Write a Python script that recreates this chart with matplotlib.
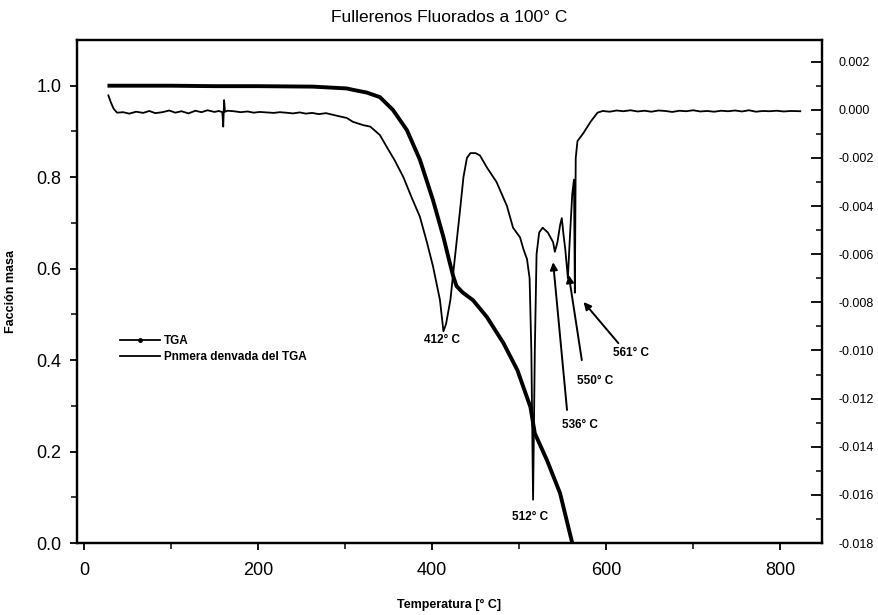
import matplotlib.pyplot as plt
from matplotlib.lines import Line2D

plt.rcParams['font.family'] = ['Liberation Sans', 'DejaVu Sans']

# TGA (fraccion masa)
tga_temp = [27, 60, 100, 150, 200, 263, 302, 309, 325, 340, 355, 371, 386, 401,
            413, 420, 424, 428, 435, 447, 463, 482, 498, 513, 518, 532, 547, 561]
tga_mass = [1.0, 1.0, 1.0, 0.999, 0.999, 0.998, 0.994, 0.991, 0.985, 0.975, 0.947,
            0.903, 0.838, 0.750, 0.669, 0.615, 0.585, 0.562, 0.548, 0.531, 0.494,
            0.437, 0.378, 0.297, 0.240, 0.181, 0.109, 0.0]

# Primera derivada del TGA
der_temp = [28, 31, 34, 38, 45, 52, 60, 68, 75, 82, 90, 98, 105, 112, 120, 128,
            135, 142, 150, 155, 159, 160, 161, 162, 165, 172, 180, 188, 195, 202,
            210, 218, 225, 232, 240, 248, 255, 262, 270, 278, 285, 292, 302, 309,
            321, 329, 340, 348, 357, 367, 376, 386, 394, 401, 409, 413, 416, 421,
            426, 432, 436, 440, 444, 450, 455, 463, 474, 486, 493, 501, 505, 509,
            512, 514, 516, 518, 520, 523, 527, 533, 539, 541, 544, 547, 549, 551,
            553, 556, 558, 561, 563, 564, 565, 567, 574, 582, 590, 596, 604, 612,
            620, 628, 636, 644, 652, 660, 668, 676, 684, 692, 700, 708, 716, 724,
            732, 740, 748, 756, 764, 772, 780, 788, 796, 804, 812, 823]
der_val = [0.0006, 0.0003, 0.00005, -0.00012, -0.0001, -0.00016, -0.00008,
           -0.00013, -0.00005, -0.00014, -0.0001, -0.00003, -0.00012, -0.00006,
           -0.00015, -0.00004, -0.0001, -0.00002, -0.00009, -0.00005, -0.0001,
           -0.0007, 0.0004, -0.00008, -0.00004, -0.00006, -0.0001, -0.00007,
           -0.00012, -0.00009, -0.00011, -0.00013, -0.0001, -0.00012, -0.00015,
           -0.00011, -0.00016, -0.00013, -0.00018, -0.00014, -0.0002, -0.00026,
           -0.00034, -0.0005, -0.00064, -0.0007, -0.00105, -0.00155, -0.0021,
           -0.0028, -0.0036, -0.00445, -0.0055, -0.0065, -0.0079, -0.0092, -0.0089,
           -0.0079, -0.0062, -0.0042, -0.0028, -0.0020, -0.0018, -0.0018, -0.0019,
           -0.0024, -0.0030, -0.0040, -0.0049, -0.0053, -0.0058, -0.0062, -0.0070,
           -0.0100, -0.0162, -0.0100, -0.0060, -0.0051, -0.0049, -0.0051, -0.0055,
           -0.0059, -0.0055, -0.0048, -0.0045, -0.0052, -0.0058, -0.0070, -0.0055,
           -0.0035, -0.0029, -0.0076, -0.0020, -0.0013, -0.00096, -0.0005,
           -0.00012, -0.00005, -0.00008, -0.00003, -0.00006, -0.00002, -0.00007,
           -0.00004, -0.00008, -0.00003, -0.00005, -0.00009, -0.00004, -0.00006,
           -0.00002, -0.00007, -0.00005, -0.00008, -0.00004, -0.00006, -0.00003,
           -0.00007, -0.00002, -0.00008, -0.00005, -0.00006, -0.00004, -0.00007,
           -0.00005, -0.00006]

# etiquetas de picos (texto, x, y en fraccion masa)
peak_text = ['412° C', '512° C', '536° C', '550° C', '561° C']
peak_x = [411, 512, 570, 587, 628]
peak_y = [0.443, 0.058, 0.258, 0.354, 0.415]

# flechas: cola -> punta
arrow_tail = [(555, 0.291), (572, 0.40), (614, 0.437)]
arrow_head = [(539, 0.614), (557, 0.586), (574, 0.527)]

fig = plt.figure(figsize=(8.79, 6.15), dpi=100)
ax = fig.add_axes([0.0876, 0.117, 0.8476, 0.818])
ax2 = ax.twinx()

ax.plot(tga_temp, tga_mass, color='black', lw=2.8, solid_capstyle='butt')
ax2.plot(der_temp, der_val, color='black', lw=1.3)

ax.set_xlim(-8, 848)
ax.set_ylim(0, 1.1)
ax2.set_ylim(-0.018, 0.0029)

ax.set_xticks([0, 200, 400, 600, 800])
ax.set_xticks([100, 300, 500, 700], minor=True)
ax.set_yticks([0.0, 0.2, 0.4, 0.6, 0.8, 1.0])
ax.set_yticks([0.1, 0.3, 0.5, 0.7, 0.9], minor=True)
ax.set_yticklabels(['0.0', '0.2', '0.4', '0.6', '0.8', '1.0'])
ax2.set_yticks([0.002 - 0.002 * i for i in range(11)])
ax2.set_yticks([0.001 - 0.002 * i for i in range(10)], minor=True)
ax2.set_yticklabels(['%.3f' % (0.002 - 0.002 * i) for i in range(11)])

ax.tick_params(axis='both', which='major', direction='out', length=5, width=1.3,
               labelsize=13, pad=6)
ax.tick_params(axis='both', which='minor', direction='out', length=4, width=1.1)
ax.tick_params(axis='x', pad=9)
ax2.tick_params(axis='y', which='major', direction='in', length=8, width=1.3,
                labelsize=9, pad=12)
ax2.tick_params(axis='y', which='minor', direction='in', length=4, width=1.1)

for sp in ['left', 'right', 'top', 'bottom']:
    ax.spines[sp].set_linewidth(1.6)
    ax2.spines[sp].set_linewidth(1.6)

ax.set_xlabel('Temperatura [° C]', fontsize=9, fontweight='bold', labelpad=14)
ax.set_ylabel('Facción masa', fontsize=9, fontweight='bold', labelpad=14)
ax.set_title('Fullerenos Fluorados a 100° C', fontsize=12.5, pad=13)

for t, x, y in zip(peak_text, peak_x, peak_y):
    ax.text(x, y, t, ha='center', va='center', fontsize=8.5, fontweight='bold')
for tail, head in zip(arrow_tail, arrow_head):
    ax.annotate('', xy=head, xytext=tail,
                arrowprops=dict(arrowstyle='-|>', lw=1.4, color='black',
                                mutation_scale=11, shrinkA=0, shrinkB=0))

handles = [Line2D([], [], color='black', lw=1.3, marker='o', markersize=2.5),
           Line2D([], [], color='black', lw=1.3)]
ax.legend(handles, ['TGA', 'Pnmera denvada del TGA'], loc='upper left',
          bbox_to_anchor=(0.058, 0.413), frameon=False, borderaxespad=0,
          borderpad=0, handlelength=3.4, handletextpad=0.3, labelspacing=0.3,
          prop={'size': 8.5, 'weight': 'bold'})

fig.savefig('out.png', dpi=100)
